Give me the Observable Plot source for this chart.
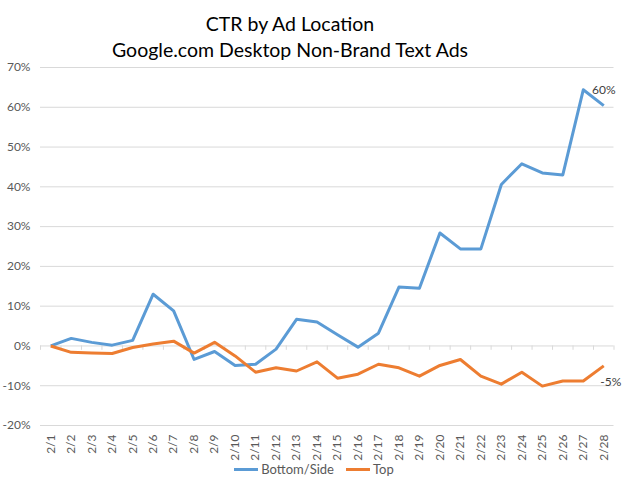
<!DOCTYPE html>
<html>
<head>
<meta charset="utf-8">
<script src="https://cdn.jsdelivr.net/npm/d3@7"></script>
<script src="https://cdn.jsdelivr.net/npm/@observablehq/plot@0.6"></script>
<style>
  html, body { margin: 0; padding: 0; background: #fff; }
  body { width: 624px; height: 491px; overflow: hidden; font-family: Lato, "Open Sans", sans-serif; }
  #title { height: 56px; position: relative; }
  #title div { position: absolute; left: 0; width: 580px; text-align: center; font-size: 19.5px; color: #000; white-space: nowrap; }
  #legend { height: 18px; display: flex; justify-content: center; align-items: center; font-size: 13px; color: #595959; padding-left: 4px; }
  .sw { display: inline-block; width: 24px; height: 3px; margin-right: 3px; }
  .item { display: flex; align-items: center; margin: 0 6px; }
</style>
</head>
<body>
<div id="title">
  <div style="top:12px">CTR by Ad Location</div>
  <div style="top:38px">Google.com Desktop Non-Brand Text Ads</div>
</div>
<div id="chart"></div>
<div id="legend"></div>
<script>
const dates = ["2/1","2/2","2/3","2/4","2/5","2/6","2/7","2/8","2/9","2/10","2/11","2/12","2/13","2/14","2/15","2/16","2/17","2/18","2/19","2/20","2/21","2/22","2/23","2/24","2/25","2/26","2/27","2/28"];
const bottomSide = [0, 0.019, 0.009, 0.002, 0.014, 0.130, 0.088, -0.034, -0.014, -0.049, -0.046, -0.008, 0.067, 0.060, 0.028, -0.003, 0.032, 0.148, 0.145, 0.284, 0.244, 0.244, 0.406, 0.458, 0.435, 0.430, 0.644, 0.604];
const topValues = [0, -0.016, -0.018, -0.019, -0.004, 0.005, 0.012, -0.018, 0.009, -0.025, -0.066, -0.055, -0.063, -0.040, -0.081, -0.071, -0.046, -0.055, -0.076, -0.049, -0.034, -0.076, -0.096, -0.066, -0.101, -0.088, -0.088, -0.050];
const seriesNames = ["Bottom/Side", "Top"];
const seriesColors = ["#5b9bd5", "#ed7d31"];
const yTicks = [-0.2, -0.1, 0, 0.1, 0.2, 0.3, 0.4, 0.5, 0.6, 0.7];

const rows = [];
dates.forEach((d, i) => {
  rows.push({i, date: d, series: seriesNames[0], value: bottomSide[i]});
  rows.push({i, date: d, series: seriesNames[1], value: topValues[i]});
});
const bounds = d3.range(dates.length + 1).map(k => k - 0.5);
const last = dates.length - 1;
const pct = v => Math.round(v * 100) + "%";

const chart = Plot.plot({
  width: 624,
  height: 404,
  marginLeft: 40,
  marginRight: 10.5,
  marginTop: 11,
  marginBottom: 35,
  style: {fontFamily: "Lato, 'Open Sans', sans-serif", fontSize: "12px", color: "#595959", background: "#fff", overflow: "visible"},
  x: {type: "linear", domain: [-0.5, dates.length - 0.5]},
  y: {domain: [-0.2, 0.7]},
  color: {domain: seriesNames, range: seriesColors},
  marks: [
    Plot.gridY(yTicks, {stroke: "#d9d9d9", strokeOpacity: 1}),
    Plot.ruleX(bounds, {x: d => d, y1: 0, y2: -0.011, stroke: "#d9d9d9", strokeOpacity: 1}),
    Plot.axisY(yTicks, {tickSize: 0, tickPadding: 10, tickFormat: pct, fill: "#595959", fontSize: 12, label: null}),
    Plot.axisX(d3.range(dates.length), {tickSize: 0, tickPadding: 9, tickRotate: -90, tickFormat: i => dates[i], fill: "#595959", fontSize: 12, label: null}),
    Plot.line(rows, {x: "i", y: "value", z: "series", stroke: "series", strokeWidth: 3, strokeLinejoin: "round", strokeLinecap: "butt"}),
    Plot.text([rows[last * 2]], {x: "i", y: "value", text: d => pct(d.value), dy: -16, dx: 0, fill: "#404040", fontSize: 12}),
    Plot.text([rows[last * 2 + 1]], {x: "i", y: "value", text: d => pct(d.value), dy: 16, dx: 7, fill: "#404040", fontSize: 12})
  ]
});
document.getElementById("chart").appendChild(chart);

const legend = document.getElementById("legend");
seriesNames.forEach((name, k) => {
  const item = document.createElement("span");
  item.className = "item";
  const sw = document.createElement("span");
  sw.className = "sw";
  sw.style.background = seriesColors[k];
  item.appendChild(sw);
  item.appendChild(document.createTextNode(name));
  legend.appendChild(item);
});
</script>
</body>
</html>
